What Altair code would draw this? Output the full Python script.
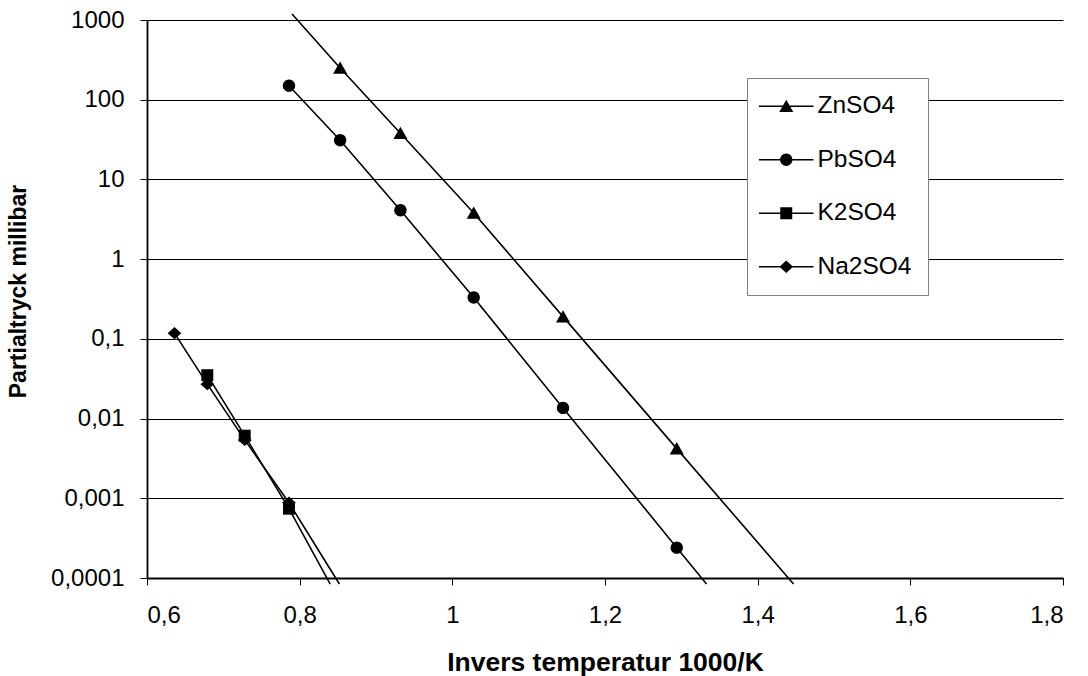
import altair as alt
import pandas as pd

# Series shown in the legend, top to bottom
series_names = ["ZnSO4", "PbSO4", "K2SO4", "Na2SO4"]

# Measured vapour pressures: inverse temperature (1000/K) and partial pressure (mbar)
zn_x = [0.853, 0.932, 1.028, 1.145, 1.294]
zn_p = [250, 38, 3.8, 0.19, 0.0042]
pb_x = [0.786, 0.853, 0.932, 1.028, 1.145, 1.294]
pb_p = [150, 31, 4.1, 0.33, 0.0136, 0.00024]
k_x = [0.679, 0.728, 0.786]
k_p = [0.035, 0.0061, 0.00074]
na_x = [0.636, 0.679, 0.728, 0.786]
na_p = [0.118, 0.027, 0.0054, 0.00088]

# Trend-line ends beyond the measured points (drawn without markers)
zn_end_x = [0.790, 1.447]
zn_end_p = [1190, 0.000084]
pb_end_x = [1.333]
pb_end_p = [0.000084]
k_end_x = [0.840]
k_end_p = [0.000084]
na_end_x = [0.852]
na_end_p = [0.000084]

# Axis ticks
x_ticks = [0.6, 0.8, 1.0, 1.2, 1.4, 1.6, 1.8]
y_ticks = [0.0001, 0.001, 0.01, 0.1, 1, 10, 100, 1000]

measured = {
    "ZnSO4": (zn_x, zn_p),
    "PbSO4": (pb_x, pb_p),
    "K2SO4": (k_x, k_p),
    "Na2SO4": (na_x, na_p),
}
ends = {
    "ZnSO4": (zn_end_x, zn_end_p),
    "PbSO4": (pb_end_x, pb_end_p),
    "K2SO4": (k_end_x, k_end_p),
    "Na2SO4": (na_end_x, na_end_p),
}

point_rows = []
line_rows = []
for name in series_names:
    xs, ps = measured[name]
    for x, p in zip(xs, ps):
        point_rows.append({"series": name, "x": x, "p": p})
        line_rows.append({"series": name, "x": x, "p": p})
    exs, eps = ends[name]
    for x, p in zip(exs, eps):
        line_rows.append({"series": name, "x": x, "p": p})

points_df = pd.DataFrame(point_rows)
lines_df = pd.DataFrame(line_rows)

# Marker outlines in a unit box (all drawn clockwise so overlaps stay filled)
marker_paths = [
    "M0,-1L1.08,0.9L-1.08,0.9Z",                                   # triangle
    "M0.95,0A0.95,0.95,0,1,1,-0.95,0A0.95,0.95,0,1,1,0.95,0Z",     # circle
    "M-0.92,-0.92H0.92V0.92H-0.92Z",                               # square
    "M0,-0.95L1.05,0L0,0.95L-1.05,0Z",                             # diamond
]
# Legend keys: a thin filled bar through each marker
key_line = "M-4.2,-0.11H4.2V0.11H-4.2Z"
key_paths = [key_line + p for p in marker_paths]

FONT = "Liberation Sans"
comma_label = "replace(toString(datum.value), '.', ',')"

x_enc = alt.X(
    "x:Q",
    scale=alt.Scale(domain=[0.6, 1.8], nice=False, zero=False),
    axis=alt.Axis(
        values=x_ticks,
        labelExpr=comma_label,
        title="Invers temperatur 1000/K",
        grid=False,
        tickSize=7,
        labelPadding=18,
        labelBaseline="top",
        titleX=458,
        titleY=92,
        titleAlign="center",
        titleBaseline="alphabetic",
        titleFontSize=26.5,
    ),
)
y_enc = alt.Y(
    "p:Q",
    scale=alt.Scale(type="log", domain=[0.0001, 1000], nice=False),
    axis=alt.Axis(
        values=y_ticks,
        labelExpr=comma_label,
        title="Partialtryck millibar",
        grid=True,
        gridColor="black",
        gridWidth=1,
        tickSize=7,
        labelPadding=16,
        titleX=-122,
        titleY=271,
        titleAngle=270,
        titleAlign="center",
        titleBaseline="alphabetic",
        titleFontSize=23,
    ),
)

lines = alt.Chart(lines_df).mark_line(color="black", strokeWidth=1.6).encode(
    x=x_enc,
    y=y_enc,
    detail="series:N",
)

markers = alt.Chart(points_df).mark_point(
    filled=True, color="black", opacity=1, size=169
).encode(
    x=x_enc,
    y=y_enc,
    shape=alt.Shape(
        "series:N",
        scale=alt.Scale(domain=series_names, range=marker_paths),
        legend=None,
    ),
)

# Invisible layer that only supplies the legend (line-through-marker keys)
legend_keys = alt.Chart(points_df).mark_point(
    filled=True, color="black", opacity=0, size=169
).encode(
    x=x_enc,
    y=y_enc,
    shape=alt.Shape(
        "series:N",
        scale=alt.Scale(domain=series_names, range=key_paths),
        legend=alt.Legend(
            title=None,
            orient="none",
            legendX=600,
            legendY=58,
            fillColor="white",
            strokeColor="#808080",
            padding=16,
            symbolSize=169,
            symbolOpacity=1,
            symbolFillColor="black",
            symbolOffset=11,
            labelOffset=19,
            labelFont=FONT,
            labelFontSize=24.5,
            labelColor="black",
            labelLimit=0,
            rowPadding=28.5,
        ),
    ),
)

chart = (
    alt.layer(lines, markers, legend_keys)
    .resolve_scale(shape="independent")
    .properties(
        width=916,
        height=558,
        autosize="none",
        padding={"left": 147, "top": 20, "right": 25, "bottom": 98},
        background="white",
    )
    .configure_view(stroke=None)
    .configure_axis(
        labelFont=FONT,
        labelFontSize=24,
        labelColor="black",
        titleFont=FONT,
        titleFontWeight="bold",
        titleColor="black",
        domainColor="black",
        domainWidth=1.8,
        tickColor="black",
        tickWidth=1,
    )
)

chart.save("out.html", embed_options={"renderer": "svg", "actions": False})
